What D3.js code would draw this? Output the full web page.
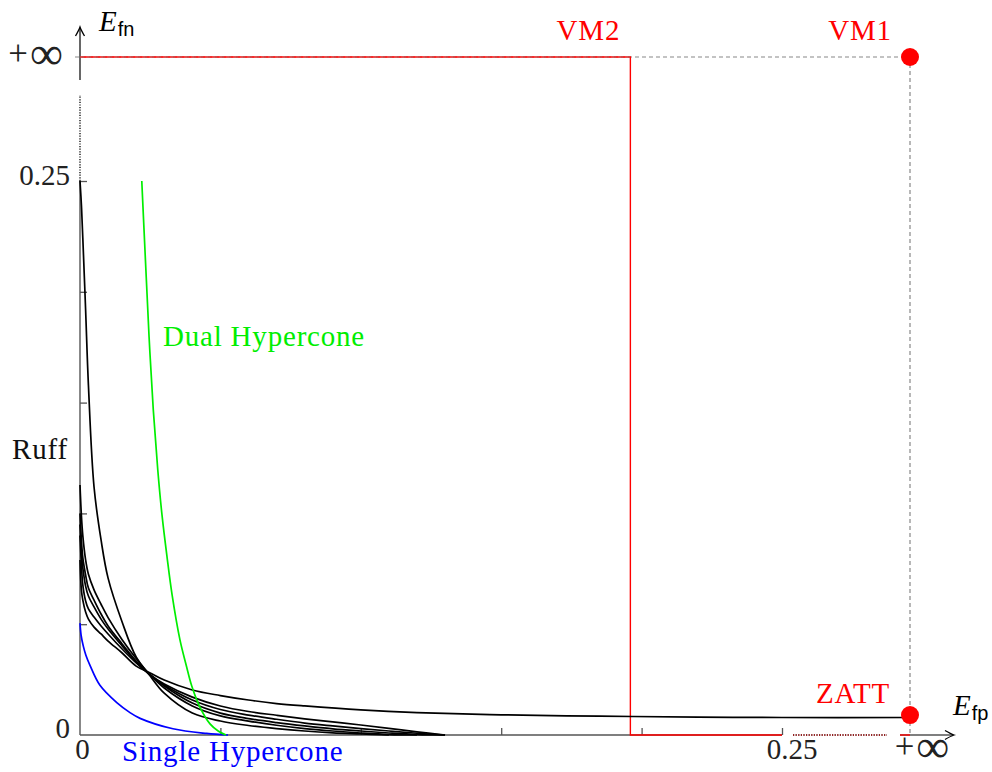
<!DOCTYPE html>
<html>
<head>
<meta charset="utf-8">
<script src="https://cdn.jsdelivr.net/npm/d3@7/dist/d3.min.js"></script>
<style>
  html, body { margin: 0; padding: 0; background: #fff; }
  svg { display: block; }
  text { font-family: "Liberation Serif", "Times New Roman", serif; }
</style>
</head>
<body>
<svg id="chart" width="992" height="772"></svg>
<script>
// ---- symbolic "+infinity" positions on each axis ----
const FP_INF = 0.3;
const FN_INF = 0.3;

// ---- ticks ----
const fpTicks = [0.05, 0.10, 0.15, 0.20, 0.25];
const fnTicks = [0.05, 0.10, 0.15, 0.20, 0.25];
const fpTickLabelValues = [0, 0.25, FP_INF];
const fpTickLabels = ["0", "0.25", "+\u221E"];
const fnTickLabelValues = [0, 0.25, FN_INF];
const fnTickLabels = ["0", "0.25", "+\u221E"];

// ---- Ruff curves (shared E_fp grid) ----
const ruffFp = [0, 0.0005, 0.001, 0.002, 0.003, 0.005, 0.0075, 0.01, 0.015, 0.02, 0.025, 0.03, 0.04, 0.05, 0.06, 0.07, 0.08, 0.09, 0.10, 0.11, 0.12, 0.13];
const ruff1Fn = [0.2500, 0.2392, 0.2243, 0.1918, 0.1579, 0.1119, 0.0880, 0.0708, 0.0510, 0.0352, 0.0266, 0.0189, 0.0099, 0.0063, 0.0043, 0.0029, 0.0018, 0.0010, 0.0005, 0];
const ruff2Fn = [0.1128, 0.0990, 0.0900, 0.0790, 0.0725, 0.0655, 0.0590, 0.0530, 0.0430, 0.0345, 0.0271, 0.0212, 0.0131, 0.0086, 0.0063, 0.0044, 0.0029, 0.0018, 0.0009, 0.0002, 0];
const ruff3Fn = [0.1000, 0.0880, 0.0800, 0.0722, 0.0663, 0.0609, 0.0546, 0.0492, 0.0411, 0.0334, 0.0271, 0.0221, 0.0144, 0.0099, 0.0074, 0.0056, 0.0041, 0.0028, 0.0018, 0.0009, 0.0002, 0];
const ruff4Fn = [0.0950, 0.0825, 0.0755, 0.0672, 0.0627, 0.0578, 0.0523, 0.0478, 0.0402, 0.0329, 0.0271, 0.0226, 0.0158, 0.0115, 0.0090, 0.0071, 0.0054, 0.0041, 0.0029, 0.0018, 0.0008, 0];
const ruff5Fn = [0.0900, 0.0770, 0.0677, 0.0605, 0.0569, 0.0532, 0.0492, 0.0456, 0.0388, 0.0325, 0.0271, 0.0230, 0.0171, 0.0131, 0.0106, 0.0089, 0.0073, 0.0059, 0.0045, 0.0030, 0.0014, 0];

// ---- flattest Ruff curve, running out to the ZATT point ----
const ruff6Fp = [0, 0.0005, 0.001, 0.002, 0.003, 0.005, 0.0075, 0.01, 0.015, 0.02, 0.025, 0.03, 0.04, 0.05, 0.06, 0.07, 0.08, 0.10, 0.12, 0.15, 0.185, 0.22, 0.25, FP_INF];
const ruff6Fn = [0.0790, 0.0654, 0.0609, 0.0555, 0.0523, 0.0487, 0.0456, 0.0424, 0.0370, 0.0311, 0.0280, 0.0248, 0.0203, 0.0178, 0.0158, 0.0142, 0.0131, 0.0113, 0.0101, 0.0091, 0.0085, 0.0081, 0.0079, 0.0079];

// ---- Dual Hypercone (green) ----
const dualFp = [0.0220, 0.0233, 0.0246, 0.0261, 0.0277, 0.0292, 0.0310, 0.0328, 0.0356, 0.0378, 0.0398, 0.0427, 0.0463, 0.0492, 0.0520];
const dualFn = [0.2500, 0.2144, 0.1796, 0.1467, 0.1196, 0.0993, 0.0803, 0.0632, 0.0429, 0.0316, 0.0221, 0.0126, 0.0050, 0.0018, 0];

// ---- Single Hypercone (blue) ----
const singleFp = [0, 0.0004, 0.0012, 0.0021, 0.0036, 0.0071, 0.0131, 0.0178, 0.0214, 0.0331, 0.0451, 0.0527];
const singleFn = [0.0505, 0.0450, 0.0400, 0.0360, 0.0313, 0.0224, 0.0146, 0.0101, 0.0075, 0.0028, 0.0007, 0];

// ---- VM2 (red step) and points ----
const vm2Fp = [0, 0.196, 0.196, 0.25];
const vm2Fn = [FN_INF, FN_INF, 0, 0];
const vm1Point = [FP_INF, FN_INF];
const zattPoint = [FP_INF, 0.009];

// ---------------------------------------------------------------
const svg = d3.select("#chart");
const x = d3.scaleLinear().domain([0, 0.25, FP_INF]).range([80, 782, 910]);
const y = d3.scaleLinear().domain([0, 0.25, FN_INF]).range([735, 181, 57]);

const zip = (xs, ys) => ys.map((v, i) => [xs[i], v]);
const line = d3.line().x(d => x(d[0])).y(d => y(d[1])).curve(d3.curveCatmullRom.alpha(0.5));
const straight = d3.line().x(d => x(d[0])).y(d => y(d[1]));

const AX = "#555";
const RED = "#ff0000";

// writes a label, drawing "+" and the infinity sign larger (as in TeX math)
function writeLabel(sel, txt, size) {
  const parts = txt.split("\u221E");
  if (parts.length > 1) {
    sel.append("tspan").attr("font-size", size * 1.2).text(parts[0]);
    sel.append("tspan").attr("font-size", size * 1.6)
      .attr("dy", 4).attr("dx", 2).text("\u221E");
  } else {
    sel.append("tspan").text(parts[0]);
  }
}

// gray dashed guides to VM1 / ZATT
svg.append("line")
  .attr("x1", x(0) - 5).attr("x2", x(FP_INF))
  .attr("y1", y(FN_INF)).attr("y2", y(FN_INF))
  .attr("stroke", "#888").attr("stroke-width", 1.2).attr("stroke-dasharray", "4,3");
svg.append("line")
  .attr("x1", x(FP_INF)).attr("x2", x(FP_INF))
  .attr("y1", y(FN_INF)).attr("y2", y(0))
  .attr("stroke", "#888").attr("stroke-width", 1.2).attr("stroke-dasharray", "4,3");

// ---- axes ----
const gAx = svg.append("g");
gAx.append("line").attr("x1", x(0)).attr("x2", x(0.25)).attr("y1", y(0)).attr("y2", y(0))
  .attr("stroke", AX).attr("stroke-width", 1.4);
gAx.append("line").attr("x1", x(0.25) + 11).attr("x2", x(FP_INF) - 23).attr("y1", y(0)).attr("y2", y(0))
  .attr("stroke", "#000").attr("stroke-width", 1.3).attr("stroke-dasharray", "1.2,1.4");
gAx.append("line").attr("x1", x(FP_INF) - 10).attr("x2", x(FP_INF) + 43).attr("y1", y(0)).attr("y2", y(0))
  .attr("stroke", "#000").attr("stroke-width", 1.2);
{
  const tx = x(FP_INF) + 44, ty = y(0);
  gAx.append("path")
    .attr("d", `M${tx - 9},${ty - 4.5} Q${tx - 3},${ty - 1} ${tx},${ty} Q${tx - 3},${ty + 1} ${tx - 9},${ty + 4.5}`)
    .attr("fill", "none").attr("stroke", "#000").attr("stroke-width", 1.3);
}
gAx.append("line").attr("x1", x(0)).attr("x2", x(0)).attr("y1", y(0)).attr("y2", y(0.25))
  .attr("stroke", AX).attr("stroke-width", 1.4);
gAx.append("line").attr("x1", x(0)).attr("x2", x(0)).attr("y1", y(0.25)).attr("y2", y(FN_INF) + 38)
  .attr("stroke", "#000").attr("stroke-width", 1.3).attr("stroke-dasharray", "1.2,1.4");
gAx.append("line").attr("x1", x(0)).attr("x2", x(0)).attr("y1", y(FN_INF) + 23).attr("y2", y(FN_INF) - 29)
  .attr("stroke", "#000").attr("stroke-width", 1.2);
{
  const tx = x(0), ty = y(FN_INF) - 30;
  gAx.append("path")
    .attr("d", `M${tx - 4.5},${ty + 9} Q${tx - 1},${ty + 3} ${tx},${ty} Q${tx + 1},${ty + 3} ${tx + 4.5},${ty + 9}`)
    .attr("fill", "none").attr("stroke", "#000").attr("stroke-width", 1.3);
}

// tick marks (inward)
gAx.append("g").attr("transform", `translate(0,${y(0)})`)
  .call(d3.axisBottom(x).tickValues(fpTicks).tickSize(-7).tickFormat(""))
  .call(g => g.select(".domain").remove())
  .call(g => g.selectAll(".tick line").attr("stroke", AX).attr("stroke-width", 1.3));
gAx.append("g").attr("transform", `translate(${x(0)},0)`)
  .call(d3.axisLeft(y).tickValues(fnTicks).tickSize(-7).tickFormat(""))
  .call(g => g.select(".domain").remove())
  .call(g => g.selectAll(".tick line").attr("stroke", AX).attr("stroke-width", 1.3));

// tick labels
const fpDx = [2.5, 10, 12];
svg.append("g").selectAll("text").data(fpTickLabelValues).join("text")
  .attr("x", (d, i) => x(d) + fpDx[i]).attr("y", (d, i) => y(0) + (i === 2 ? 23 : 24))
  .attr("text-anchor", "middle").attr("font-size", 29).attr("fill", "#222")
  .each(function (d, i) { writeLabel(d3.select(this), fpTickLabels[i], 29); });
const fnDy = [3, 4, 8];
svg.append("g").selectAll("text").data(fnTickLabelValues).join("text")
  .attr("x", (d, i) => x(0) - (i === 2 ? 17 : 10)).attr("y", (d, i) => y(d) + fnDy[i])
  .attr("text-anchor", "end").attr("font-size", 29).attr("fill", "#222")
  .each(function (d, i) { writeLabel(d3.select(this), fnTickLabels[i], 29); });

// axis titles
{
  const t = svg.append("text").attr("x", 99).attr("y", 31).attr("font-size", 29);
  t.append("tspan").attr("font-style", "italic").text("E");
  t.append("tspan").attr("dy", 5).attr("dx", 1)
    .style("font-family", "'Liberation Sans', 'DejaVu Sans', sans-serif").attr("font-size", 20).text("fn");
  const u = svg.append("text").attr("x", 953).attr("y", 715).attr("font-size", 29);
  u.append("tspan").attr("font-style", "italic").text("E");
  u.append("tspan").attr("dy", 5).attr("dx", 1)
    .style("font-family", "'Liberation Sans', 'DejaVu Sans', sans-serif").attr("font-size", 20).text("fp");
}

// ---- VM2 red step ----
svg.append("path").attr("d", straight(zip(vm2Fp, vm2Fn)))
  .attr("fill", "none").attr("stroke", RED).attr("stroke-width", 1.4);
svg.append("line").attr("x1", x(0.25) + 11).attr("x2", x(FP_INF) - 23).attr("y1", y(0)).attr("y2", y(0))
  .attr("stroke", RED).attr("stroke-width", 1.3).attr("stroke-dasharray", "1.2,1.4").attr("opacity", 0.6);
svg.append("line").attr("x1", x(FP_INF) - 10).attr("x2", x(FP_INF)).attr("y1", y(0)).attr("y2", y(0))
  .attr("stroke", RED).attr("stroke-width", 1.4);
svg.append("line")
  .attr("x1", x(0)).attr("x2", x(0.196))
  .attr("y1", y(FN_INF)).attr("y2", y(FN_INF))
  .attr("stroke", "#888").attr("stroke-width", 1.0).attr("stroke-dasharray", "4,3").attr("opacity", 0.6);

// ---- curves ----
const ruffSeries = [ruff1Fn, ruff2Fn, ruff3Fn, ruff4Fn, ruff5Fn];
svg.append("g").selectAll("path").data(ruffSeries).join("path")
  .attr("d", s => line(zip(ruffFp, s)))
  .attr("fill", "none").attr("stroke", "#000").attr("stroke-width", 1.7);
svg.append("path").attr("d", line(zip(ruff6Fp, ruff6Fn)))
  .attr("fill", "none").attr("stroke", "#000").attr("stroke-width", 1.7);

svg.append("path").attr("d", line(zip(singleFp, singleFn)))
  .attr("fill", "none").attr("stroke", "#0000ff").attr("stroke-width", 1.7);
svg.append("path").attr("d", line(zip(dualFp, dualFn)))
  .attr("fill", "none").attr("stroke", "#00ee00").attr("stroke-width", 1.7);

// ---- points ----
svg.append("g").selectAll("circle").data([vm1Point, zattPoint]).join("circle")
  .attr("cx", d => x(d[0])).attr("cy", d => y(d[1])).attr("r", 9).attr("fill", RED);

// ---- labels ----
const lab = (tx, ty, txt, col, anchor) => svg.append("text")
  .attr("x", tx).attr("y", ty).attr("fill", col).attr("font-size", 29)
  .attr("letter-spacing", 0.8).attr("text-anchor", anchor || "start").text(txt);
lab(x(0.196) - 42, y(FN_INF) - 17, "VM2", RED, "middle");
lab(x(FP_INF) - 50, y(FN_INF) - 17, "VM1", RED, "middle");
lab(x(FP_INF) - 57, y(zattPoint[1]) - 12, "ZATT", RED, "middle");
lab(163, 346, "Dual Hypercone", "#00ee00");
lab(122, 761, "Single Hypercone", "#0000ff");
lab(12, 459, "Ruff", "#111");
</script>
</body>
</html>
